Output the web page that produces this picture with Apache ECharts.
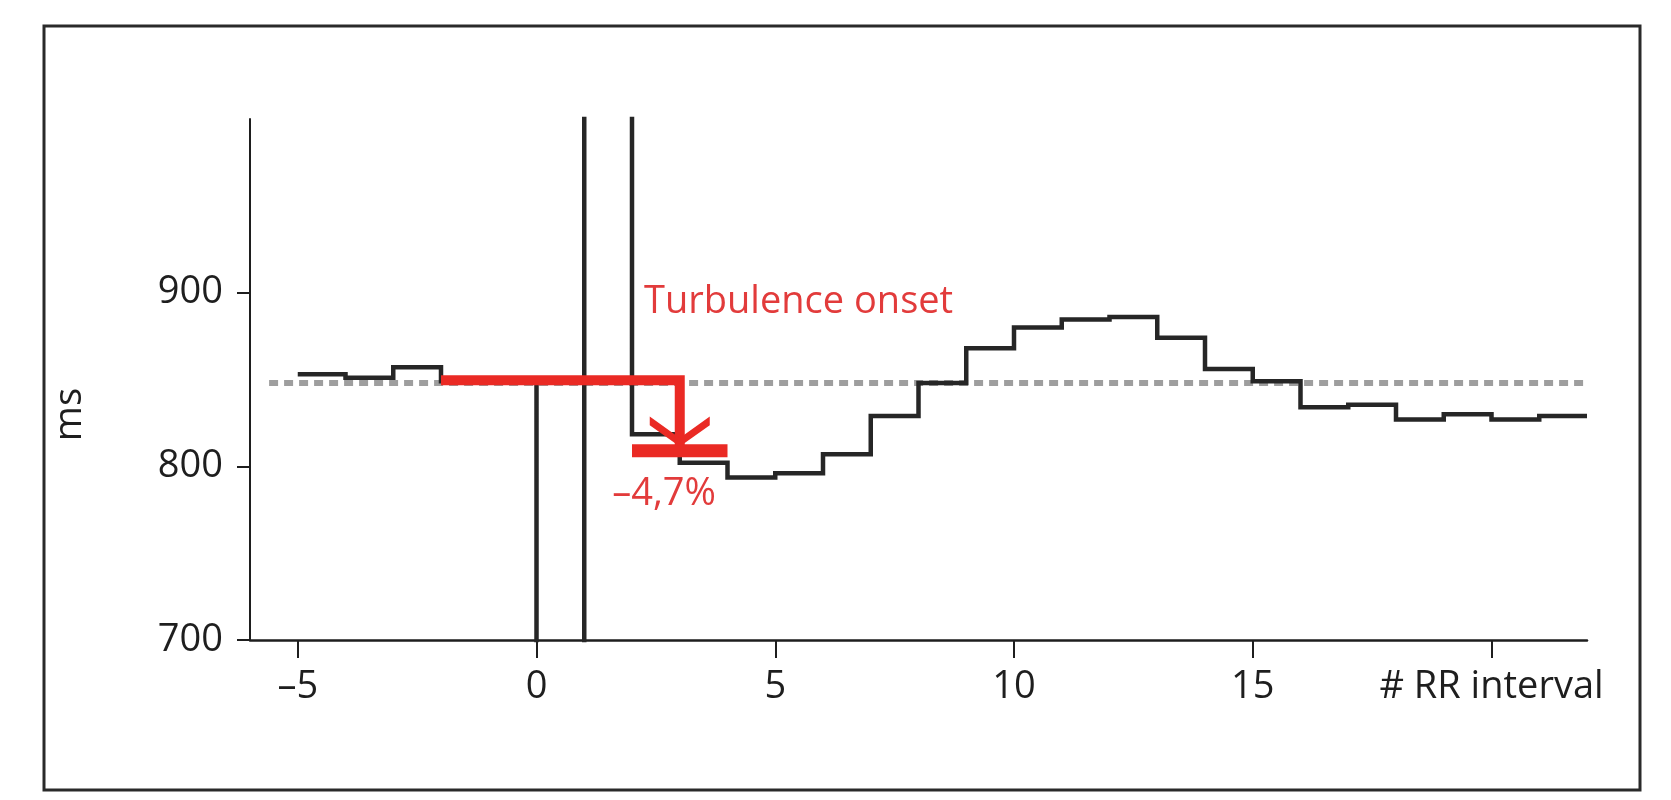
<!DOCTYPE html>
<html>
<head>
<meta charset="utf-8">
<script src="https://cdn.jsdelivr.net/npm/echarts@6/dist/echarts.min.js"></script>
<style>
  html, body { margin: 0; padding: 0; background: #fff; }
  #chart { width: 1671px; height: 800px; }
</style>
</head>
<body>
<div id="chart"></div>
<script>
// RR interval index around the premature beat (0 = coupling interval, 1 = pause)
var rrIndex = [-5, -4, -3, -2, -1, 0, 1, 2, 3, 4, 5, 6, 7, 8, 9, 10, 11, 12, 13, 14, 15, 16, 17, 18, 19, 20, 21];
// RR length in ms (0 and 1 run off the scale)
var rrValues = [853, 851, 857, 849, 850, 650, 1050, 818.5, 802, 793.5, 796, 807, 829, 848, 868, 880, 884.5, 886, 874, 856, 849, 834, 835.5, 827, 830, 827, 829];

// mean RR reference (dotted)
var meanRR = 848;
var meanFrom = -5.6;
var meanTo = 22;

// turbulence onset: mean of the two beats before vs the two beats after
var preBeats = [-2, 3];
var preMean = 849.5;
var arrowTip = 811;
var postBeats = [2, 4];
var postMean = 809;
var onsetLabel = 'Turbulence onset';
var onsetValue = '\u20134,7%';

var xTicks = [-5, 0, 5, 10, 15, 20];
var xLabels = [-5, 0, 5, 10, 15, 20];
var xName = '# RR interval';
var yTicks = [700, 800, 900];

var FONT = '"Open Sans", sans-serif';
var RED = '#ea2a24';
var INK = '#1e1e1e';

// step line: each RR value is held for one interval
var stepData = rrIndex.map(function (x, i) { return [x, rrValues[i]]; });
stepData.push([rrIndex[rrIndex.length - 1] + 1, rrValues[rrValues.length - 1]]);

var chart = echarts.init(document.getElementById('chart'), null, { renderer: 'canvas' });

var option = {
  backgroundColor: '#fff',
  animation: false,
  grid: {
    left: 250, right: 84, top: 119, bottom: 160,
    containLabel: false,
    outerBoundsMode: 'none'
  },
  xAxis: {
    type: 'value',
    min: -6,
    max: 22,
    splitLine: { show: false },
    axisLine: { show: true, onZero: false, lineStyle: { color: INK, width: 2.5 } },
    axisTick: { show: true, customValues: xTicks, length: 18, lineStyle: { color: INK, width: 2 } },
    axisLabel: {
      customValues: xLabels,
      margin: 28,
      hideOverlap: false,
      fontFamily: FONT, fontSize: 38, color: INK,
      // the last tick carries the axis title instead of its number
      formatter: function (v) {
        if (v === xLabels[xLabels.length - 1]) return xName;
        return v < 0 ? '\u2013' + Math.abs(v) : String(v);
      }
    }
  },
  yAxis: {
    type: 'value',
    min: 700,
    max: 1000,
    name: 'ms',
    nameLocation: 'middle',
    nameRotate: 90,
    nameGap: 161,
    nameTextStyle: {
      fontFamily: FONT, fontSize: 38, color: INK,
      padding: [0, 70, 0, 0]
    },
    splitLine: { show: false },
    axisLine: { show: true, onZero: false, lineStyle: { color: INK, width: 2 } },
    axisTick: { show: true, customValues: yTicks, length: 13, lineStyle: { color: INK, width: 2 } },
    axisLabel: {
      customValues: yTicks,
      margin: 27,
      fontFamily: FONT, fontSize: 38, color: INK
    }
  },
  series: [
    {
      name: 'mean',
      type: 'line',
      data: [[meanFrom, meanRR], [meanTo, meanRR]],
      symbol: 'none',
      silent: true,
      z: 1,
      lineStyle: { color: '#9e9e9e', width: 6, type: [9, 6] }
    },
    {
      name: 'RR',
      type: 'line',
      step: 'end',
      data: stepData,
      symbol: 'none',
      clip: true,
      z: 2,
      lineStyle: { color: '#262626', width: 4.5, join: 'miter' }
    },
    {
      name: 'pre',
      type: 'line',
      data: [[preBeats[0], preMean], [preBeats[1], preMean], [preBeats[1], arrowTip]],
      symbol: 'none',
      z: 3,
      lineStyle: { color: RED, width: 10, join: 'miter' },
      markPoint: {
        symbol: 'path://M0,0 L10,10 L20,0 L20,4 L10,14 L0,4 Z',
        symbolSize: [60, 30],
        silent: true,
        itemStyle: { color: RED },
        label: { show: false },
        data: [{ coord: [preBeats[1], 820] }]
      }
    },
    {
      name: 'post',
      type: 'line',
      data: [[postBeats[0], postMean], [postBeats[1], postMean]],
      symbol: 'none',
      z: 3,
      lineStyle: { color: RED, width: 13 }
    }
  ],
  graphic: [
    {
      type: 'rect',
      z: -1,
      shape: { x: 44, y: 26, width: 1596, height: 764 },
      style: { fill: 'none', stroke: '#2a2a2a', lineWidth: 3 }
    },
    {
      type: 'text',
      x: 644, y: 302,
      style: { text: onsetLabel, font: '38px ' + FONT, fill: '#e23b3b', textAlign: 'left', textVerticalAlign: 'middle' }
    },
    {
      type: 'text',
      x: 664, y: 494,
      style: { text: onsetValue, font: '38px ' + FONT, fill: '#e23b3b', textAlign: 'center', textVerticalAlign: 'middle' }
    }
  ]
};

chart.setOption(option);
window.addEventListener('resize', chart.resize);
</script>
</body>
</html>
